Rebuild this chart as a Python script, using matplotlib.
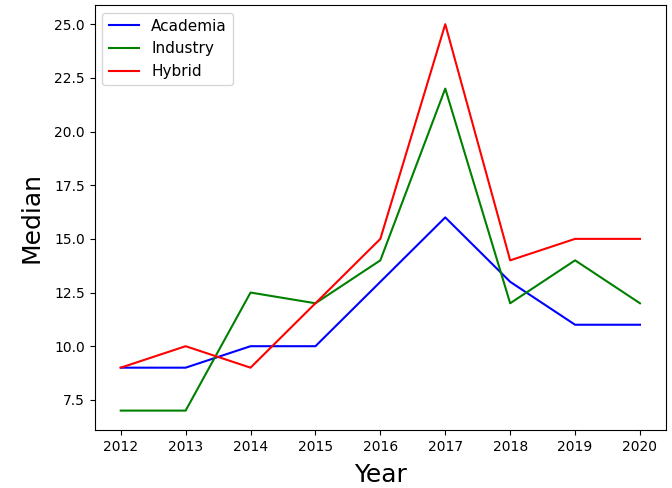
import matplotlib
matplotlib.use('Agg')
import matplotlib.pyplot as plt

years = [2012, 2013, 2014, 2015, 2016, 2017, 2018, 2019, 2020]
academia = [9, 9, 10, 10, 13, 16, 13, 11, 11]
industry = [7, 7, 12.5, 12, 14, 22, 12, 14, 12]
hybrid = [9, 10, 9, 12, 15, 25, 14, 15, 15]

fig = plt.figure(figsize=(6.72, 4.88), dpi=100)
ax = fig.add_axes([0.141, 0.119, 0.85, 0.871])
ax.plot(years, academia, color='blue', label='Academia')
ax.plot(years, industry, color='green', label='Industry')
ax.plot(years, hybrid, color='red', label='Hybrid')
ax.set_xticks(years)
ax.set_xlabel('Year', fontsize=18, labelpad=7)
ax.set_ylabel('Median', fontsize=18, labelpad=8)
ax.legend(loc='upper left', fontsize=11)
fig.savefig('out.png', dpi=100)
